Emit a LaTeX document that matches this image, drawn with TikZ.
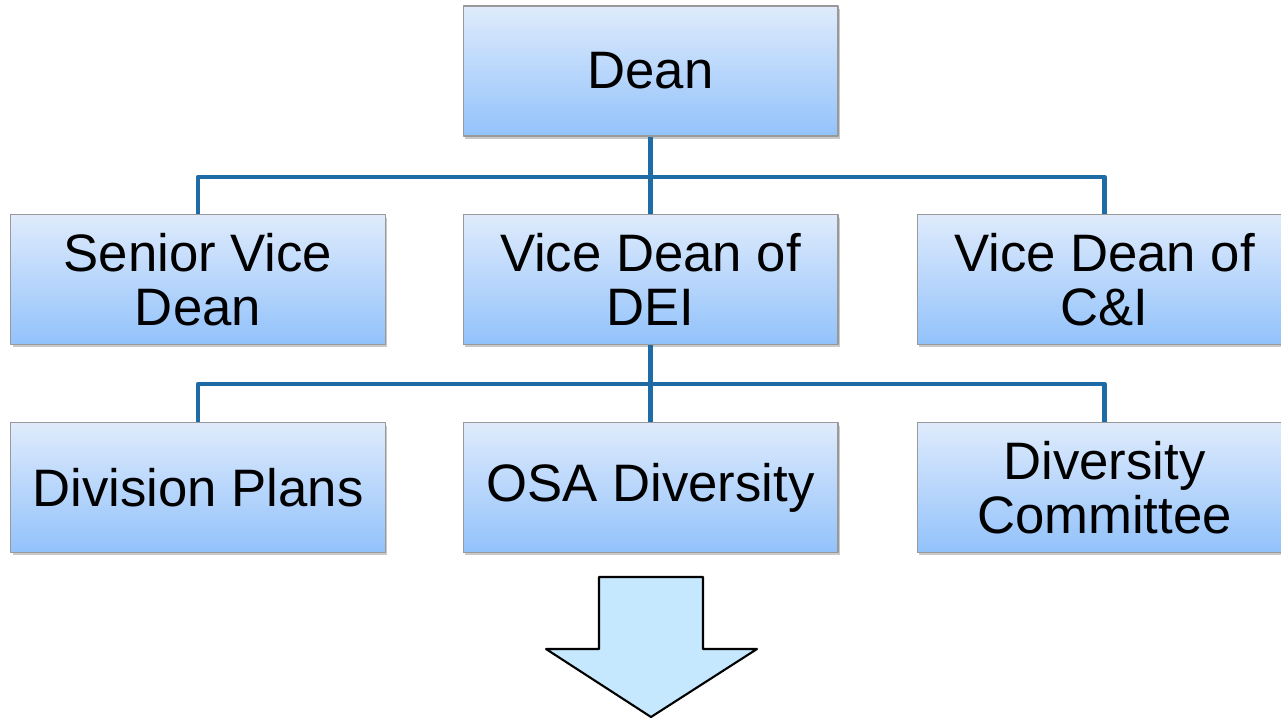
\documentclass[tikz,border=0pt]{standalone}
\usepackage{fontspec}
\setmainfont{Liberation Sans}
\usetikzlibrary{shadows}
\definecolor{boxtop}{HTML}{DFEBFC}
\definecolor{boxbot}{HTML}{92C2FB}
\definecolor{linkblue}{HTML}{1F6BA5}
\definecolor{arrowfill}{HTML}{C5E8FE}
\tikzset{
  orgbox/.style={draw=gray!80, line width=0.6pt, top color=boxtop, bottom color=boxbot,
    minimum width=7.5cm, minimum height=2.6cm, inner sep=0pt, align=center,
    font=\fontsize{30}{31}\selectfont,
    drop shadow={shadow xshift=0.04cm, shadow yshift=-0.06cm, opacity=0.35, fill=black!60}},
  link/.style={draw=linkblue, line width=2.6pt}
}
\begin{document}
\begin{tikzpicture}[x=0.02cm, y=-0.02cm, line join=round]
	\useasboundingbox (0,0) rectangle (1281,719);
	
	% Hàng trên cùng
	\node[orgbox] (dean) at (650.5,71) {Dean};
	
	% Hàng thứ hai
	\node[orgbox] (svd) at (198,279.5) {Senior Vice\\Dean};
	\node[orgbox] (dei) at (650.5,279.5) {Vice Dean of\\DEI};
	\node[orgbox] (ci) at (1104.5,279.5) {Vice Dean of\\C\&I};
	
	% Hàng thứ ba
	\node[orgbox] (plans) at (198,487.5) {Division Plans};
	\node[orgbox] (osa) at (650.5,487.5) {OSA Diversity};
	\node[orgbox] (comm) at (1104.5,487.5) {Diversity\\Committee};
	
	% Các đường nối
	\coordinate (bus1) at (650.5,177);
	\coordinate (bus2) at (650.5,384);
	\draw[link] (dean.south) -- (bus1) -| (svd.north);
	\draw[link] (bus1) -| (ci.north);
	\draw[link] (bus1) -- (dei.north);
	\draw[link] (dei.south) -- (bus2) -| (plans.north);
	\draw[link] (bus2) -| (comm.north);
	\draw[link] (bus2) -- (osa.north);
	
	% Mũi tên lớn phía dưới
	\draw[fill=arrowfill, line width=1.2pt] (599,577) -- (703,577) -- (703,649) -- (757,649)
		-- (651,717) -- (546,649) -- (599,649) -- cycle;
\end{tikzpicture}
\end{document}
